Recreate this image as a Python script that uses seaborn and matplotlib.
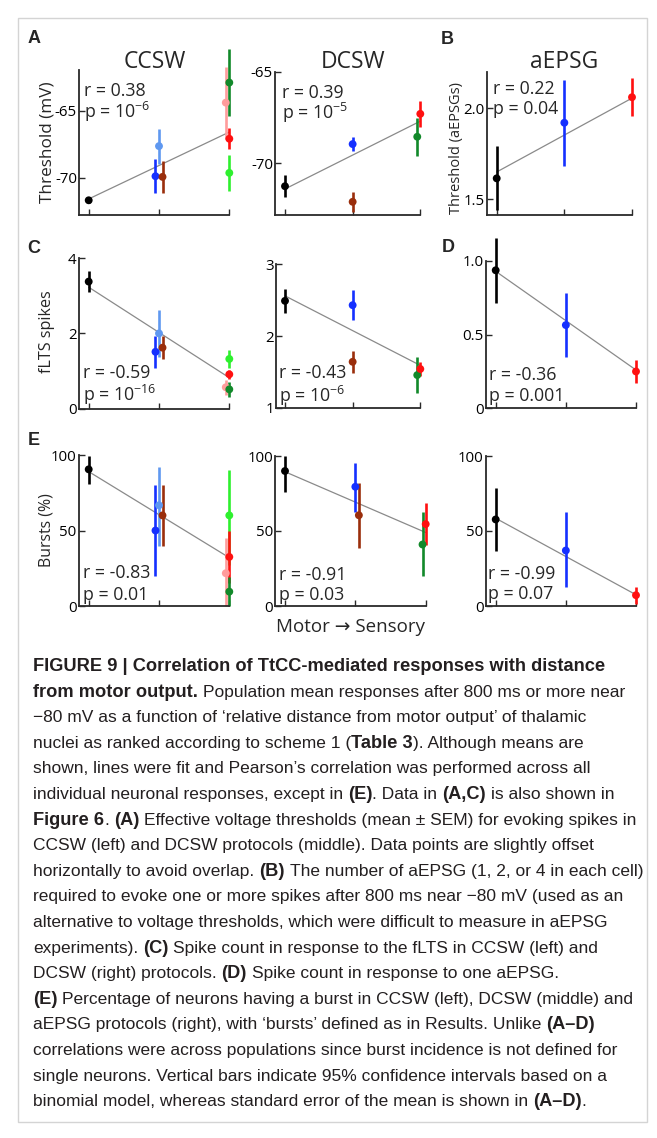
import numpy as np
import pandas as pd
import matplotlib
matplotlib.use("Agg")
import matplotlib.pyplot as plt
from matplotlib.patches import Rectangle
import seaborn as sns

# ---------------- data ----------------
ccsw_series = ['black', 'lightblue', 'blue', 'brown', 'pink', 'green', 'red', 'darkgreen']
dcsw_series = ['black', 'blue', 'brown', 'darkgreen', 'red']
aepsg_series = ['black', 'blue', 'red']
rank = {'black': 1, 'blue': 2, 'lightblue': 2, 'brown': 2,
        'pink': 3, 'darkgreen': 3, 'red': 3, 'green': 3}

# (A) thresholds (mV), mean +- SEM
ccsw_thr_mean = [-71.7, -67.65, -69.9, -69.95, -64.4, -69.65, -67.1, -62.9]
ccsw_thr_sem = [0.2, 1.3, 1.25, 1.2, 2.7, 1.35, 0.8, 2.5]
ccsw_thr_fit = [-71.6, -66.6]
dcsw_thr_mean = [-71.25, -68.95, -72.1, -68.55, -67.3]
dcsw_thr_sem = [0.6, 0.4, 0.55, 1.05, 0.7]
dcsw_thr_fit = [-71.4, -67.7]
# (B) aEPSG threshold
aepsg_thr_mean = [1.615, 1.92, 2.06]
aepsg_thr_sem = [0.175, 0.235, 0.105]
aepsg_thr_fit = [1.65, 2.055]
# (C) fLTS spikes
ccsw_spk_mean = [3.38, 2.0, 1.51, 1.62, 0.565, 1.32, 0.91, 0.51]
ccsw_spk_sem = [0.28, 0.63, 0.42, 0.3, 0.2, 0.24, 0.12, 0.2]
ccsw_spk_fit = [3.23, 0.82]
dcsw_spk_mean = [2.49, 2.43, 1.64, 1.455, 1.54]
dcsw_spk_sem = [0.17, 0.21, 0.15, 0.25, 0.1]
dcsw_spk_fit = [2.56, 1.59]
# (D) aEPSG spikes
aepsg_spk_mean = [0.937, 0.565, 0.25]
aepsg_spk_sem = [0.22, 0.22, 0.075]
aepsg_spk_fit = [0.93, 0.26]
# (E) bursts (%), 95% CI
ccsw_burst = [90.5, 66.7, 50, 60, 21.7, 60, 32.5, 9.5]
ccsw_burst_lo = [81, 40, 20, 40, 0, 27, 15, 0]
ccsw_burst_hi = [99.3, 92, 80, 80, 45, 90, 50, 19]
ccsw_burst_fit = [89, 32]
dcsw_burst = [90, 79.5, 60.5, 41, 54.6]
dcsw_burst_lo = [76, 62.5, 39, 20, 40.5]
dcsw_burst_hi = [100, 95.5, 82, 62.5, 69]
dcsw_burst_fit = [89.5, 49]
aepsg_burst = [57.7, 37, 7.2]
aepsg_burst_lo = [36.7, 12.5, 1.5]
aepsg_burst_hi = [79, 62.5, 13]
aepsg_burst_fit = [58.5, 7.5]

r_labels = ['0.38', '0.39', '0.22', '-0.59', '-0.43', '-0.36', '-0.83', '-0.91', '-0.99']
p_labels = ['10$^{-6}$', '10$^{-5}$', '0.04', '10$^{-16}$', '10$^{-6}$', '0.001',
            '0.01', '0.03', '0.07']
titles = ['CCSW', 'DCSW', 'aEPSG']
panel_letters = ['A', 'B', 'C', 'D', 'E']
ytick_sets = [[-70, -65], [-70, -65], [1.5, 2.0], [0, 2, 4], [1, 2, 3], [0, 0.5, 1.0],
              [0, 50, 100], [0, 50, 100], [0, 50, 100]]
ytick_labels = [['-70', '-65'], ['-70', '-65'], ['1.5', '2.0'], ['0', '2', '4'],
                ['1', '2', '3'], ['0', '0.5', '1.0'], ['0', '50', '100'],
                ['0', '50', '100'], ['0', '50', '100']]
ylims = [(-72.8, -61.96), (-72.82, -65), (1.414, 2.2), (0, 4), (1, 3), (0, 1.0),
         (0, 100), (0, 100), (0, 100)]
xlabel_text = 'Motor \u2192 Sensory'

caption_lines = [
    [("FIGURE 9 | Correlation of TtCC-mediated responses with distance", True)],
    [("from motor output.", True), (" Population mean responses after 800 ms or more near", False)],
    [("\u221280 mV as a function of \u2018relative distance from motor output\u2019 of thalamic", False)],
    [("nuclei as ranked according to scheme 1 (", False), ("Table 3", True), ("). Although means are", False)],
    [("shown, lines were fit and Pearson\u2019s correlation was performed across all", False)],
    [("individual neuronal responses, except in ", False), ("(E)", True), (". Data in ", False),
     ("(A,C)", True), (" is also shown in", False)],
    [("Figure 6", True), (". ", False), ("(A)", True),
     (" Effective voltage thresholds (mean \u00b1 SEM) for evoking spikes in", False)],
    [("CCSW (left) and DCSW protocols (middle). Data points are slightly offset", False)],
    [("horizontally to avoid overlap. ", False), ("(B)", True),
     (" The number of aEPSG (1, 2, or 4 in each cell)", False)],
    [("required to evoke one or more spikes after 800 ms near \u221280 mV (used as an", False)],
    [("alternative to voltage thresholds, which were difficult to measure in aEPSG", False)],
    [("experiments). ", False), ("(C)", True), (" Spike count in response to the fLTS in CCSW (left) and", False)],
    [("DCSW (right) protocols. ", False), ("(D)", True), (" Spike count in response to one aEPSG.", False)],
    [("(E)", True), (" Percentage of neurons having a burst in CCSW (left), DCSW (middle) and", False)],
    [("aEPSG protocols (right), with \u2018bursts\u2019 defined as in Results. Unlike ", False), ("(A\u2013D)", True)],
    [("correlations were across populations since burst incidence is not defined for", False)],
    [("single neurons. Vertical bars indicate 95% confidence intervals based on a", False)],
    [("binomial model, whereas standard error of the mean is shown in ", False), ("(A\u2013D)", True), (".", False)],
]

# ---------------- style ----------------
COLORS = {'black': '#000000', 'blue': '#1530ff', 'lightblue': '#5f98f0',
          'brown': '#9a2e0c', 'pink': '#ff9c9c', 'green': '#2ef02e',
          'red': '#ff1010', 'darkgreen': '#12892a'}
sns.set_style('ticks')
plt.rcParams['font.family'] = ['Open Sans', 'DejaVu Sans']
plt.rcParams['axes.unicode_minus'] = False
plt.rcParams['mathtext.default'] = 'regular'

W, H = 657, 1138
fig = plt.figure(figsize=(W / 100, H / 100), dpi=100)
fig.patch.set_facecolor('white')


def fx(x):
    return x / W


def fy(y):
    return 1 - y / H


# layout in pixels: left, right, top, bottom, x(tick1), x(tick3)
layout = [
    (79, 229.3, 70, 215, 88.7, 229.3),
    (275, 420.3, 71.7, 215, 285, 420.3),
    (486.7, 632, 71.7, 215, 496.7, 632),
    (78.7, 229.3, 258.3, 408.5, 88.7, 229.3),
    (275.7, 420.3, 264.3, 407.7, 285, 420.3),
    (485.7, 636, 261, 408.3, 495.7, 636),
    (78.7, 229.3, 455, 606, 88.7, 229.3),
    (275, 425.7, 456, 606, 285, 425.7),
    (485.7, 636, 456, 606, 495.7, 636),
]
ccsw_off = {'blue': -0.05, 'brown': 0.05, 'pink': -0.05}
dcsw_off = {'darkgreen': -0.045}
dcsw_off_e = {'darkgreen': -0.045, 'brown': 0.05}


def sem_to_lohi(m, s):
    return [a - b for a, b in zip(m, s)], [a + b for a, b in zip(m, s)]


panels = [
    (ccsw_series, ccsw_thr_mean, *sem_to_lohi(ccsw_thr_mean, ccsw_thr_sem), ccsw_thr_fit, ccsw_off),
    (dcsw_series, dcsw_thr_mean, *sem_to_lohi(dcsw_thr_mean, dcsw_thr_sem), dcsw_thr_fit, dcsw_off),
    (aepsg_series, aepsg_thr_mean, *sem_to_lohi(aepsg_thr_mean, aepsg_thr_sem), aepsg_thr_fit, {}),
    (ccsw_series, ccsw_spk_mean, *sem_to_lohi(ccsw_spk_mean, ccsw_spk_sem), ccsw_spk_fit, ccsw_off),
    (dcsw_series, dcsw_spk_mean, *sem_to_lohi(dcsw_spk_mean, dcsw_spk_sem), dcsw_spk_fit, dcsw_off),
    (aepsg_series, aepsg_spk_mean, *sem_to_lohi(aepsg_spk_mean, aepsg_spk_sem), aepsg_spk_fit, {}),
    (ccsw_series, ccsw_burst, ccsw_burst_lo, ccsw_burst_hi, ccsw_burst_fit, ccsw_off),
    (dcsw_series, dcsw_burst, dcsw_burst_lo, dcsw_burst_hi, dcsw_burst_fit, dcsw_off_e),
    (aepsg_series, aepsg_burst, aepsg_burst_lo, aepsg_burst_hi, aepsg_burst_fit, {}),
]
# stats text positions (px): x, r-baseline, p-baseline
stat_pos = [(84, 96.5, 117.5), (281.7, 97.5, 118.5), (493.3, 94.5, 113.5),
            (83.3, 377.5, 401), (279.3, 378.5, 402), (489.3, 379.5, 401),
            (82.7, 578.5, 600), (279, 579.5, 600), (488.3, 579, 599.5)]

for i, (series, mean, lo, hi, fit, offs) in enumerate(panels):
    L, R, T, B, x1, x3 = layout[i]
    ax = fig.add_axes([fx(L), fy(B), (R - L) / W, (B - T) / H])
    unit = (x3 - x1) / 2
    ax.set_xlim(1 - (x1 - L) / unit, 3 + (R - x3) / unit)
    ax.set_ylim(*ylims[i])
    xs = [rank[s] + offs.get(s, 0) for s in series]
    ax.vlines(xs, lo, hi, colors=[COLORS[s] for s in series], lw=1.9,
              clip_on=False, zorder=2)
    sns.lineplot(x=[1, 3], y=fit, ax=ax, color='#8a8a8a', lw=0.9, zorder=1)
    df = pd.DataFrame({'x': xs, 'y': mean, 'grp': series})
    sns.scatterplot(data=df, x='x', y='y', hue='grp', palette=COLORS, s=32,
                    linewidth=0, legend=False, ax=ax, zorder=3, clip_on=False)
    ax.set_xlabel('')
    ax.set_ylabel('')
    ax.set_xticks([1, 2, 3])
    ax.set_xticklabels([])
    ax.set_yticks(ytick_sets[i])
    ax.set_yticklabels(ytick_labels[i])
    for sp in ['top', 'right']:
        ax.spines[sp].set_visible(False)
    for sp in ['left', 'bottom']:
        ax.spines[sp].set_linewidth(1.3)
        ax.spines[sp].set_color('#2a2a2a')
    ax.tick_params(direction='in', length=4, width=1, labelsize=10.8, pad=1.5,
                   colors='#2a2a2a', labelcolor='black')
    ax.patch.set_alpha(0)
    sx, ry, py = stat_pos[i]
    fig.text(fx(sx), fy(ry), 'r = ' + r_labels[i], fontsize=12.8, va='baseline', ha='left')
    fig.text(fx(sx), fy(py), 'p = ' + p_labels[i], fontsize=12.8, va='baseline', ha='left')

# titles
for t, cx in zip(titles, [155, 352.8, 563.7]):
    fig.text(fx(cx), fy(68.3), t, fontsize=16.5, ha='center', va='baseline')

# panel letters
for lt, (x, y) in zip(panel_letters, [(27.3, 42.7), (441, 44), (27.3, 252.7), (441.7, 251.7), (27.3, 445)]):
    fig.text(fx(x), fy(y), lt, fontsize=13, fontweight='bold', family='Liberation Sans',
             ha='left', va='baseline')

# y labels
fig.text(fx(48), fy(141.7), 'Threshold (mV)', rotation=90, fontsize=12.3, ha='center', va='center')
fig.text(fx(456.7), fy(148), 'Threshold (aEPSGs)', rotation=90, fontsize=10.5, ha='center', va='center')
fig.text(fx(46.7), fy(331.5), 'fLTS spikes', rotation=90, fontsize=11.6, ha='center', va='center')
fig.text(fx(46.7), fy(530), 'Bursts (%)', rotation=90, fontsize=11.4, ha='center', va='center')
fig.text(fx(351), fy(627), xlabel_text, fontsize=13.5, ha='center', va='center',
         family=['Open Sans', 'DejaVu Sans'])

# caption
renderer = fig.canvas.get_renderer()
cap_family = 'Liberation Sans'
cap_color = '#231f20'


def text_w(s, size, bold):
    t = fig.text(0, 0, s, fontsize=size, family=cap_family,
                 fontweight='bold' if bold else 'normal')
    w = t.get_window_extent(renderer=renderer).width
    t.remove()
    return w


def seg_width(segs, sizes):
    total = 0
    for s, b in segs:
        size = sizes[b]
        spw = text_w('x x', size, b) - text_w('xx', size, b)
        lead = len(s) - len(s.lstrip(' '))
        trail = len(s) - len(s.rstrip(' '))
        core = s.strip(' ')
        total += (lead + trail) * spw + (text_w(core, size, b) if core else 0)
    return total


base = 12.0
# regular size: fit an all-regular line to its reference width; bold: fit title line
reg_size = base * 579 / seg_width(caption_lines[4], {False: base, True: base})
bold_size = base * 587 / seg_width(caption_lines[0], {False: base, True: base})
sizes = {False: reg_size, True: bold_size}
# keep every line inside the frame
widest = max(seg_width(l, sizes) for l in caption_lines)
if widest > 608:
    k = 608 / widest
    sizes = {b: v * k for b, v in sizes.items()}


def draw_line(segs, x0, y0):
    x = x0
    for s, b in segs:
        size = sizes[b]
        spw = text_w('x x', size, b) - text_w('xx', size, b)
        lead = len(s) - len(s.lstrip(' '))
        trail = len(s) - len(s.rstrip(' '))
        core = s.strip(' ')
        x += lead * spw
        if core:
            fig.text(fx(x), fy(y0), core, fontsize=size, family=cap_family, color=cap_color,
                     fontweight='bold' if b else 'normal', ha='left', va='baseline')
            x += text_w(core, size, b)
        x += trail * spw


for k, segs in enumerate(caption_lines):
    draw_line(segs, 33, 671 + k * 25.6)

fig.patches.append(Rectangle((fx(18), fy(1122)), (647 - 18) / W, (1122 - 18) / H,
                             transform=fig.transFigure, fill=False, ec='#d4d4d4', lw=1))

fig.savefig('out.png', dpi=100)
